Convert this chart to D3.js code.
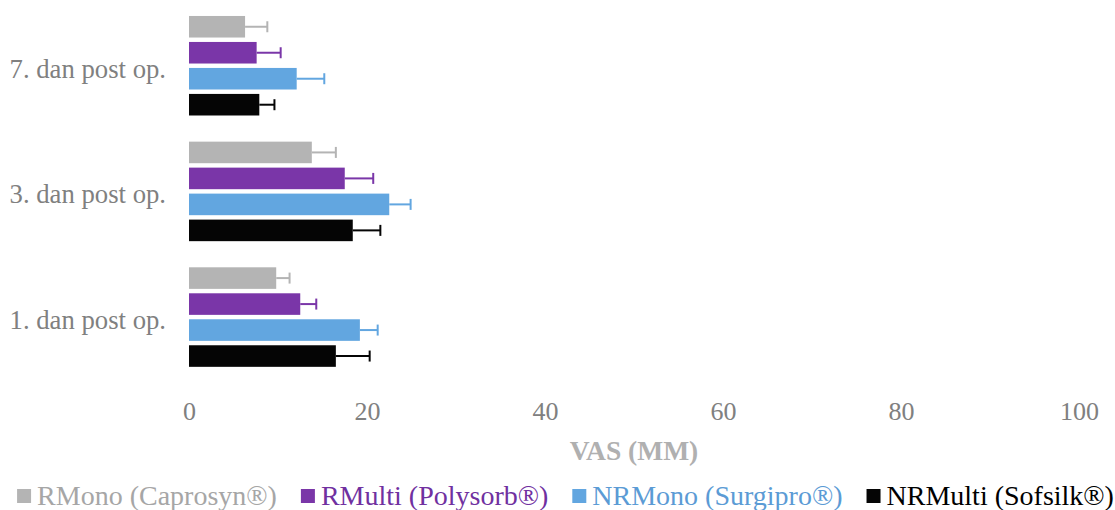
<!DOCTYPE html>
<html>
<head>
<meta charset="utf-8">
<script src="https://cdn.jsdelivr.net/npm/d3@7"></script>
<style>
  body { margin: 0; background: #fff; }
  text { font-family: "Liberation Serif", "Times New Roman", serif; }
</style>
</head>
<body>
<div id="chart"></div>
<script>
// categories, top to bottom
const days = ["7. dan post op.", "3. dan post op.", "1. dan post op."];
const seriesNames = ["RMono (Caprosyn®)", "RMulti (Polysorb®)", "NRMono (Surgipro®)", "NRMulti (Sofsilk®)"];
const seriesColors = ["#b4b4b4", "#7a36a8", "#62a6e0", "#050505"];
const legendColors = ["#a6a6a6", "#7030a0", "#5b9bd5", "#000000"];

// mean VAS per day (same order as days)
const rMono   = [6.3, 13.8, 9.8];
const rMulti  = [7.6, 17.5, 12.5];
const nrMono  = [12.1, 22.5, 19.2];
const nrMulti = [7.9, 18.4, 16.5];
// error bar (plus side)
const rMonoErr   = [2.5, 2.7, 1.5];
const rMultiErr  = [2.7, 3.2, 1.8];
const nrMonoErr  = [3.1, 2.4, 2.0];
const nrMultiErr = [1.7, 3.1, 3.8];

const xTicks = [0, 20, 40, 60, 80, 100];

const values = [rMono, rMulti, nrMono, nrMulti];
const errs = [rMonoErr, rMultiErr, nrMonoErr, nrMultiErr];

const W = 1115, H = 510;
const svg = d3.select("#chart").append("svg")
  .attr("width", W).attr("height", H);

const x = d3.scaleLinear().domain([0, 100]).range([189, 1079]);
const y0 = d3.scaleBand().domain(days).range([3.4, 379.4])
  .paddingInner(0.208).paddingOuter(0.1);
const y1 = d3.scaleBand().domain(d3.range(4)).range([0, y0.bandwidth()])
  .paddingInner(0.17).paddingOuter(0);

// x tick labels (no axis line / gridlines in reference)
const xAxis = svg.append("g").attr("transform", "translate(0,420)")
  .call(d3.axisBottom(x).tickValues(xTicks).tickSize(0).tickPadding(0));
xAxis.select(".domain").remove();
xAxis.selectAll("text")
  .attr("y", 0).attr("dy", 0)
  .attr("fill", "#808080")
  .style("font-size", "26px")
  .style("font-family", "'Liberation Serif', serif");

// category labels
const yAxis = svg.append("g").attr("transform", "translate(166,0)")
  .call(d3.axisLeft(y0).tickSize(0).tickPadding(0));
yAxis.select(".domain").remove();
yAxis.selectAll("text")
  .attr("dy", "0.45em")
  .attr("fill", "#808080")
  .style("font-size", "26.7px")
  .style("font-family", "'Liberation Serif', serif");

// bars
const groups = svg.selectAll(".grp").data(days).enter().append("g")
  .attr("class", "grp")
  .attr("transform", d => "translate(0," + y0(d) + ")");

groups.each(function(day, di) {
  const g = d3.select(this);
  values.forEach((vals, si) => {
    const v = vals[di], e = errs[si][di];
    const by = y1(si), bh = y1.bandwidth();
    g.append("rect")
      .attr("x", x(0)).attr("y", by)
      .attr("width", x(v) - x(0)).attr("height", bh)
      .attr("fill", seriesColors[si]);
    const cy = by + bh / 2;
    g.append("line")
      .attr("x1", x(v)).attr("x2", x(v + e))
      .attr("y1", cy).attr("y2", cy)
      .attr("stroke", seriesColors[si]).attr("stroke-width", 2);
    g.append("line")
      .attr("x1", x(v + e)).attr("x2", x(v + e))
      .attr("y1", cy - 5.5).attr("y2", cy + 5.5)
      .attr("stroke", seriesColors[si]).attr("stroke-width", 2);
  });
});

// axis title
svg.append("text")
  .attr("x", (x(0) + x(100)) / 2).attr("y", 460)
  .attr("text-anchor", "middle")
  .attr("fill", "#b0b0b0")
  .style("font-size", "27.5px").style("font-weight", "bold")
  .text("VAS (MM)");

// legend
const legend = svg.append("g").attr("transform", "translate(0,505)");
const items = legend.selectAll(".leg").data(seriesNames).enter().append("g").attr("class", "leg");
items.append("rect")
  .attr("width", 14).attr("height", 14).attr("y", -16)
  .attr("fill", (d, i) => seriesColors[i]);
items.append("text")
  .attr("x", 20)
  .attr("fill", (d, i) => legendColors[i])
  .style("font-size", "28px")
  .text(d => d);
let widths = [];
items.each(function() { widths.push(20 + d3.select(this).select("text").node().getComputedTextLength()); });
const gap = 24;
const total = d3.sum(widths) + gap * (widths.length - 1);
let cx = (W - total) / 2 + 8;
items.attr("transform", (d, i) => {
  const t = "translate(" + cx + ",0)";
  cx += widths[i] + gap;
  return t;
});
</script>
</body>
</html>
